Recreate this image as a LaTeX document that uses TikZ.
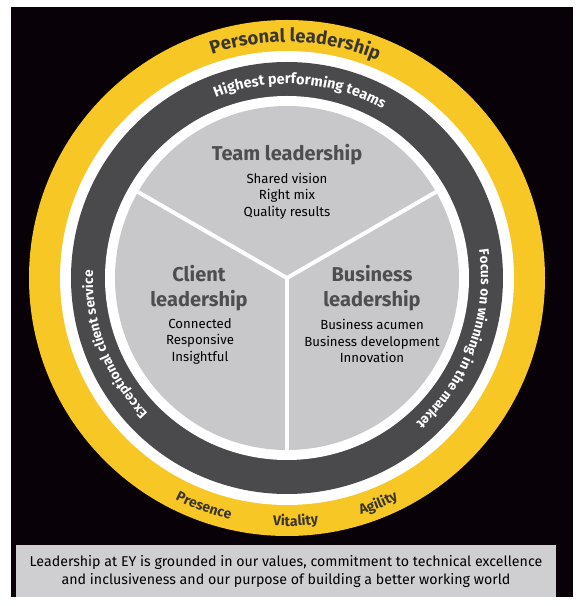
\documentclass[tikz,border=0pt]{standalone}
\usepackage{fontspec}
\setmainfont{Fira Sans}
\usetikzlibrary{decorations.text}
\definecolor{eyyellow}{RGB}{247,199,38}
\definecolor{ringgray}{RGB}{74,74,76}
\definecolor{discgray}{RGB}{200,200,203}
\definecolor{boxgray}{RGB}{207,207,210}
\definecolor{headgray}{RGB}{78,78,80}
\definecolor{ytext}{RGB}{58,54,44}
\definecolor{bgblack}{RGB}{8,2,8}
\begin{document}
\begin{tikzpicture}[x=1pt,y=1pt,
  arctext/.style={decorate, decoration={text along path, text align=center, text={#1}}},
  head/.style={font=\fontsize{20}{25}\selectfont\bfseries, text=headgray, align=center, inner sep=0},
  body/.style={font=\fontsize{13.2}{16.5}\selectfont, text=black, align=center, inner sep=0},
  divider/.style={white, line width=4pt}
]
\path[use as bounding box, fill=white] (0,0) rectangle (585,606);
\fill[bgblack] (11,9) rectangle (573,599);
\coordinate (C) at (287,328);
\fill[eyyellow] (C) circle[radius=258];
\fill[white] (C) circle[radius=227];
\fill[ringgray] (C) circle[radius=216];
\fill[white] (C) circle[radius=182];
\fill[discgray] (C) circle[radius=172];
\path (C) ++(30:172) coordinate (er);
\path (C) ++(150:172) coordinate (el);
\path (C) ++(270:172) coordinate (eb);
\draw[divider] (C) -- (er);
\draw[divider] (C) -- (el);
\draw[divider] (C) -- (eb);

% outer yellow ring texts
\path[arctext={|\fontsize{18.5}{18.5}\selectfont\bfseries\color{ytext}|Personal leadership}]
  (C) ++(148:236) arc[start angle=148, end angle=28, radius=236];
\path[arctext={|\fontsize{14}{14}\selectfont\bfseries\color{ytext}|Presence}]
  (C) ++(220:248) arc[start angle=220, end angle=280, radius=248];
\path[arctext={|\fontsize{14}{14}\selectfont\bfseries\color{ytext}|Vitality}]
  (C) ++(242:248) arc[start angle=242, end angle=302, radius=248];
\path[arctext={|\fontsize{14}{14}\selectfont\bfseries\color{ytext}|Agility}]
  (C) ++(262:248) arc[start angle=262, end angle=322, radius=248];

% dark ring texts
\path[arctext={|\fontsize{14.5}{14.5}\selectfont\bfseries\color{white}|Highest performing teams}]
  (C) ++(146:194) arc[start angle=146, end angle=26, radius=194];
\path[arctext={|\fontsize{13.5}{13.5}\selectfont\bfseries\color{white}|Focus on winning in the market}]
  (C) ++(40:194) arc[start angle=40, end angle=-80, radius=194];
\path[arctext={|\fontsize{13.5}{13.5}\selectfont\bfseries\color{white}|Exceptional client service}]
  (C) ++(261:194) arc[start angle=261, end angle=141, radius=194];

% inner texts
\node[head] (teamh) at (287,451) {Team leadership};
\node[body] (teamb) at (287,410) {Shared vision\\Right mix\\Quality results};
\node[head] (clienth) at (199,318) {Client\\leadership};
\node[body] (clientb) at (200,265) {Connected\\Responsive\\Insightful};
\node[head] (bush) at (372,318) {Business\\leadership};
\node[body] (busb) at (372,265) {Business acumen\\Business development\\Innovation};

% bottom box
\fill[boxgray] (16,9) rectangle (556,61);
\node[font=\fontsize{14.2}{18}\selectfont, text=black, align=center, inner sep=0] (note) at (286,35)
  {Leadership at EY is grounded in our values, commitment to technical excellence\\and inclusiveness and our purpose of building a better working world};
\end{tikzpicture}
\end{document}
